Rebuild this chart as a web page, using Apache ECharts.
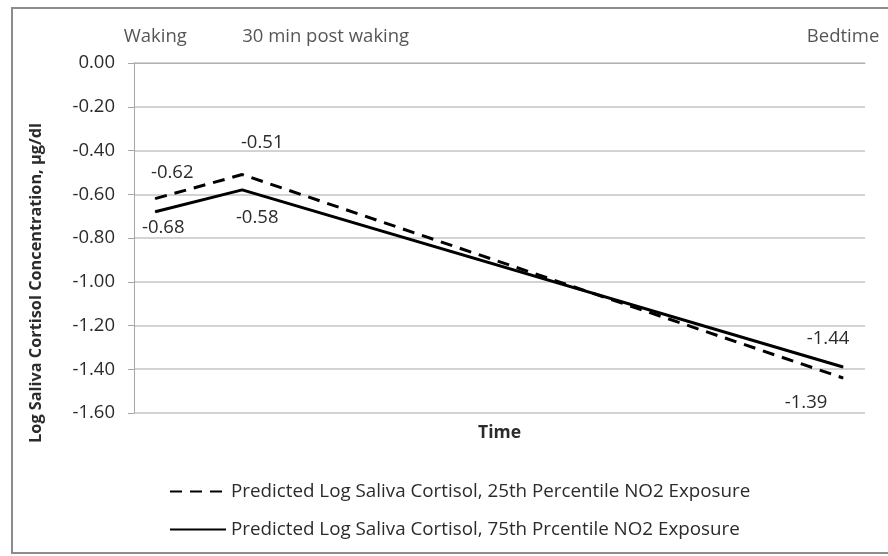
<!DOCTYPE html>
<html>
<head>
<meta charset="utf-8">
<script src="https://cdn.jsdelivr.net/npm/echarts@6/dist/echarts.min.js"></script>
<style>html,body{margin:0;padding:0;background:#fff}#c{width:888px;height:556px}</style>
</head>
<body>
<div id="c"></div>
<script>
// Time points (position along the time axis, arbitrary units)
const timeNames = ['Waking', '30 min post waking', 'Bedtime'];
const timePos = [0.29, 1.48, 9.70];
// Series values
const pct25 = [-0.62, -0.51, -1.44];
const pct75 = [-0.68, -0.58, -1.39];
const seriesNames = [
  'Predicted Log Saliva Cortisol, 25th Percentile NO2 Exposure',
  'Predicted Log Saliva Cortisol, 75th Prcentile NO2 Exposure'
];
// Y tick values
const yTicks = [0, -0.2, -0.4, -0.6, -0.8, -1.0, -1.2, -1.4, -1.6];

const FONT = 'Open Sans';
const TXT = '#2b2b2b';
const FS = 18.5;

const lbl25 = [[17, -26], [20, -32], [-15, -39]];
const lbl75 = [[8, 16], [15, 28], [-37, 36]];
function mk(vals, offs) {
  return vals.map((v, i) => ({
    value: [timePos[i], v],
    label: { offset: offs[i] }
  }));
}

const chart = echarts.init(document.getElementById('c'));
chart.setOption({
  animation: false,
  backgroundColor: '#fff',
  textStyle: { fontFamily: FONT },
  graphic: [{
    type: 'rect', shape: { x: 12, y: 8, width: 900, height: 545 },
    style: { fill: 'none', stroke: '#8c8c8c', lineWidth: 2 }, silent: true
  }],
  grid: { left: 134, right: 23, top: 63, bottom: 143 },
  xAxis: {
    type: 'value', min: 0, max: 10,
    name: 'Time', nameLocation: 'middle', nameGap: 11,
    nameTextStyle: { fontFamily: FONT, fontWeight: 'bold', fontSize: 17.5, color: TXT, verticalAlign: 'top' },
    axisLine: { show: true, lineStyle: { color: '#b0b0b0', width: 1 } },
    axisTick: { show: false }, axisLabel: { show: false }, splitLine: { show: false }
  },
  yAxis: {
    type: 'value', min: -1.6, max: 0, interval: 0.2,
    name: 'Log Saliva Cortisol Concentration, µg/dl',
    nameLocation: 'middle', nameGap: 90, nameRotate: 90,
    nameTextStyle: { fontFamily: FONT, fontWeight: 'bold', fontSize: 16.3, color: TXT, padding: [0, 90, 0, 0] },
    axisLine: { show: true, lineStyle: { color: '#a6a6a6', width: 1 } },
    axisTick: { show: true, length: 6, lineStyle: { color: '#a6a6a6' } },
    axisLabel: { margin: 19, fontFamily: FONT, fontSize: FS, color: TXT, formatter: v => v.toFixed(2) },
    splitLine: { show: true, lineStyle: { color: '#c4c4c4', width: 1.5 } }
  },
  legend: {
    orient: 'vertical', left: 164, top: 477, itemGap: 19,
    itemWidth: 56, itemHeight: 17,
    itemStyle: { opacity: 0 },
    textStyle: { fontFamily: FONT, fontSize: 18.8, color: TXT, padding: [0, 0, 0, 0] },
    data: seriesNames
  },
  series: [
    {
      name: seriesNames[0], type: 'line', data: mk(pct25, lbl25),
      symbol: 'circle', symbolSize: 1, showSymbol: true, color: '#000',
      lineStyle: { color: '#000', width: 3, type: [12, 8] },
      label: { show: true, position: 'inside', fontFamily: FONT, fontSize: FS, color: TXT,
        formatter: p => p.value[1].toFixed(2) }
    },
    {
      name: seriesNames[1], type: 'line', data: mk(pct75, lbl75),
      symbol: 'circle', symbolSize: 1, showSymbol: true, color: '#000',
      lineStyle: { color: '#000', width: 3, type: 'solid' },
      label: { show: true, position: 'inside', fontFamily: FONT, fontSize: FS, color: TXT,
        formatter: p => p.value[1].toFixed(2) }
    },
    {
      name: 'timeLabels', type: 'scatter', symbolSize: 0, silent: true,
      data: timeNames.map((n, i) => ({
        value: [timePos[i], 0], name: n,
        label: { align: i === 1 ? 'left' : 'center' }
      })),
      label: { show: true, position: 'inside', offset: [0, -26], fontFamily: FONT, fontSize: FS, color: TXT,
        verticalAlign: 'middle', formatter: p => p.name }
    }
  ]
});
</script>
</body>
</html>
